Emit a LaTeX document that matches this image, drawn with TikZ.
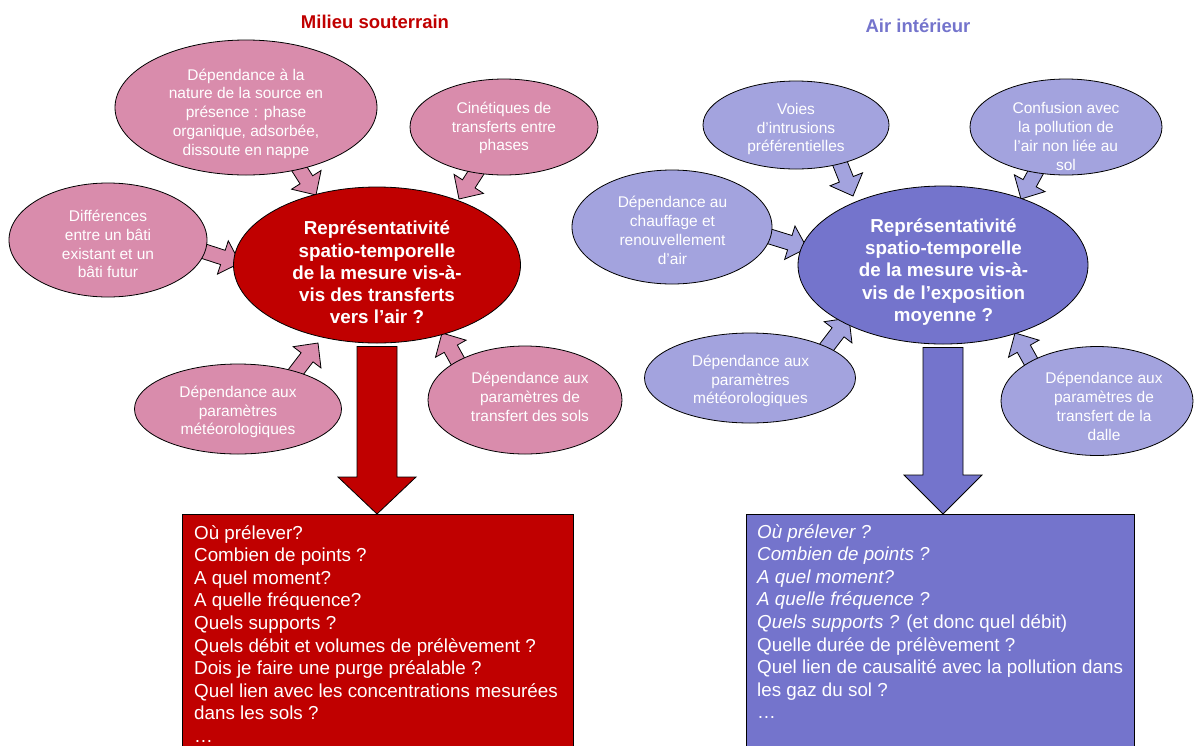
\documentclass[tikz,border=0pt]{standalone}
\usepackage{fontspec}
\setmainfont{Liberation Sans}
\usetikzlibrary{shapes.geometric,calc}
\definecolor{redm}{HTML}{C00000}
\definecolor{pinkf}{HTML}{D98CAC}
\definecolor{bluem}{HTML}{7474CC}
\definecolor{bluel}{HTML}{A3A3DE}
\tikzset{
 ell/.style={ellipse, draw=black, line width=0.8pt, inner sep=0pt},
 smalltxt/.style={text=white, align=center, font=\fontsize{15.5}{18.8}\selectfont, inner sep=0pt},
 maintxt/.style={text=white, align=center, font=\fontsize{18.8}{22.3}\selectfont\bfseries, inner sep=0pt},
 boxtxt/.style={text=white, align=left, font=\fontsize{18.8}{22.6}\selectfont, inner sep=0pt, anchor=north west},
 boxsty/.style={draw=black, line width=0.8pt, rectangle, inner sep=0pt, anchor=north west},
 ttl/.style={font=\fontsize{18.5}{22}\selectfont\bfseries, inner sep=0pt},
}
\newcommand\blockarr[6]{%
 \coordinate (#1h) at ($(#2)!#6!(#1)$);
 \filldraw[fill=#3, draw=black, line width=0.8pt, line join=miter]
  ($(#1)!#4!90:(#2)$) -- ($(#1h)!#4!-90:(#1)$) -- ($(#1h)!#5!-90:(#1)$) -- (#2)
  -- ($(#1h)!#5!90:(#1)$) -- ($(#1h)!#4!90:(#1)$) -- ($(#1)!#4!-90:(#2)$) -- cycle;
}
\begin{document}
\begin{tikzpicture}[x=1pt,y=-1pt]
\useasboundingbox (0,0) rectangle (1194,745);

% titles
\node[ttl, text=redm] (t1) at (375,22) {Milieu souterrain};
\node[ttl, text=bluem] (t2) at (918,26) {Air intérieur};

% small arrow end points
\coordinate (a1s) at (295,162); \coordinate (a1e) at (316,195);
\coordinate (a2s) at (479,168); \coordinate (a2e) at (459,199);
\coordinate (a3s) at (200,250); \coordinate (a3e) at (240,263);
\coordinate (a4s) at (292,377); \coordinate (a4e) at (318,343);
\coordinate (a5s) at (461,367); \coordinate (a5e) at (442,333);
\coordinate (a6s) at (839,161); \coordinate (a6e) at (853,196);
\coordinate (a7s) at (1038,168); \coordinate (a7e) at (1021,199);
\coordinate (a8s) at (765,235); \coordinate (a8e) at (807,248);
\coordinate (a9s) at (823,352); \coordinate (a9e) at (849,318);
\coordinate (a10s) at (1034,367); \coordinate (a10e) at (1015,333);

\blockarr{a1s}{a1e}{pinkf}{7.5pt}{17.5pt}{18pt}
\blockarr{a2s}{a2e}{pinkf}{7.5pt}{17.5pt}{18pt}
\blockarr{a3s}{a3e}{pinkf}{7.5pt}{17.5pt}{18pt}
\blockarr{a4s}{a4e}{pinkf}{7.5pt}{17.5pt}{18pt}
\blockarr{a5s}{a5e}{pinkf}{7.5pt}{17.5pt}{18pt}
\blockarr{a6s}{a6e}{bluel}{7.5pt}{17.5pt}{18pt}
\blockarr{a7s}{a7e}{bluel}{7.5pt}{17.5pt}{18pt}
\blockarr{a8s}{a8e}{bluel}{7.5pt}{17.5pt}{18pt}
\blockarr{a9s}{a9e}{bluel}{7.5pt}{17.5pt}{18pt}
\blockarr{a10s}{a10e}{bluel}{7.5pt}{17.5pt}{18pt}

% left ellipses
\node[ell, fill=pinkf, minimum width=262, minimum height=135] (srcE) at (246,107.5) {};
\node[ell, fill=pinkf, minimum width=188, minimum height=96] (cinE) at (504,127) {};
\node[ell, fill=pinkf, minimum width=198, minimum height=114] (difE) at (108,240) {};
\node[ell, fill=pinkf, minimum width=207, minimum height=90] (metL) at (238,409) {};
\node[ell, fill=pinkf, minimum width=194, minimum height=108] (solE) at (525,400) {};
\node[ell, fill=redm, minimum width=287, minimum height=156] (redM) at (377,265) {};

% right ellipses
\node[ell, fill=bluel, minimum width=186, minimum height=88] (voiE) at (796,125) {};
\node[ell, fill=bluel, minimum width=192, minimum height=96] (conE) at (1066,127) {};
\node[ell, fill=bluel, minimum width=200, minimum height=114] (chaE) at (672,227) {};
\node[ell, fill=bluel, minimum width=211, minimum height=90] (metR) at (750,378) {};
\node[ell, fill=bluel, minimum width=192, minimum height=109] (dalE) at (1097,401) {};
\node[ell, fill=bluem, minimum width=290, minimum height=158] (bluM) at (943,265) {};

% texts in ellipses
\node[smalltxt] (srcT) at (246,113.5) {Dépendance à la\\nature de la source en\\présence : phase\\organique, adsorbée,\\dissoute en nappe};
\node[smalltxt] (cinT) at (504,128) {Cinétiques de\\transferts entre\\phases};
\node[smalltxt] (difT) at (108,244) {Différences\\entre un bâti\\existant et un\\bâti futur};
\node[smalltxt] (metLT) at (238,412) {Dépendance aux\\paramètres\\météorologiques};
\node[smalltxt] (solT) at (530,397) {Dépendance aux\\paramètres de\\transfert des sols};
\node[maintxt] (redT) at (377,272.5) {Représentativité\\spatio-temporelle\\de la mesure vis-à-\\vis des transferts\\vers l’air ?};

\node[smalltxt] (voiT) at (796,129) {Voies\\d’intrusions\\préférentielles};
\node[smalltxt] (conT) at (1066,136.5) {Confusion avec\\la pollution de\\l’air non liée au\\sol};
\node[smalltxt] (chaT) at (672.5,230.5) {Dépendance au\\chauffage et\\renouvellement\\d’air};
\node[smalltxt] (metRT) at (750.5,381) {Dépendance aux\\paramètres\\météorologiques};
\node[smalltxt] (dalT) at (1104,406.5) {Dépendance aux\\paramètres de\\transfert de la\\dalle};
\node[maintxt] (bluT) at (943.5,272) {Représentativité\\spatio-temporelle\\de la mesure vis-à-\\vis de l’exposition\\moyenne ?};

% boxes
\node[boxsty, fill=redm, minimum width=391, minimum height=240] (redbox) at (182,514) {};
\node[boxsty, fill=bluem, minimum width=388, minimum height=240] (blubox) at (746,514) {};
\node[boxtxt] (redboxT) at (194,525) {Où prélever?\\Combien de points ?\\A quel moment?\\A quelle fréquence?\\Quels supports ?\\Quels débit et volumes de prélèvement ?\\Dois je faire une purge préalable ?\\Quel lien avec les concentrations mesurées\\dans les sols ?\\…};
\node[boxtxt] (bluboxT) at (757,524) {\textit{Où prélever ?}\\\textit{Combien de points ?}\\\textit{A quel moment?}\\\textit{A quelle fréquence ?}\\\textit{Quels supports ?} (et donc quel débit)\\Quelle durée de prélèvement ?\\Quel lien de causalité avec la pollution dans\\les gaz du sol ?\\…};

% big arrows
\coordinate (bA) at ($(redM.south)+(0,3)$);
\coordinate (bB) at (redM.south |- redbox.north);
\coordinate (cA) at ($(bluM.south)+(0,3)$);
\coordinate (cB) at (bluM.south |- blubox.north);
\blockarr{bA}{bB}{redm}{20pt}{39pt}{37pt}
\blockarr{cA}{cB}{bluem}{20pt}{39pt}{39pt}
\end{tikzpicture}
\end{document}
